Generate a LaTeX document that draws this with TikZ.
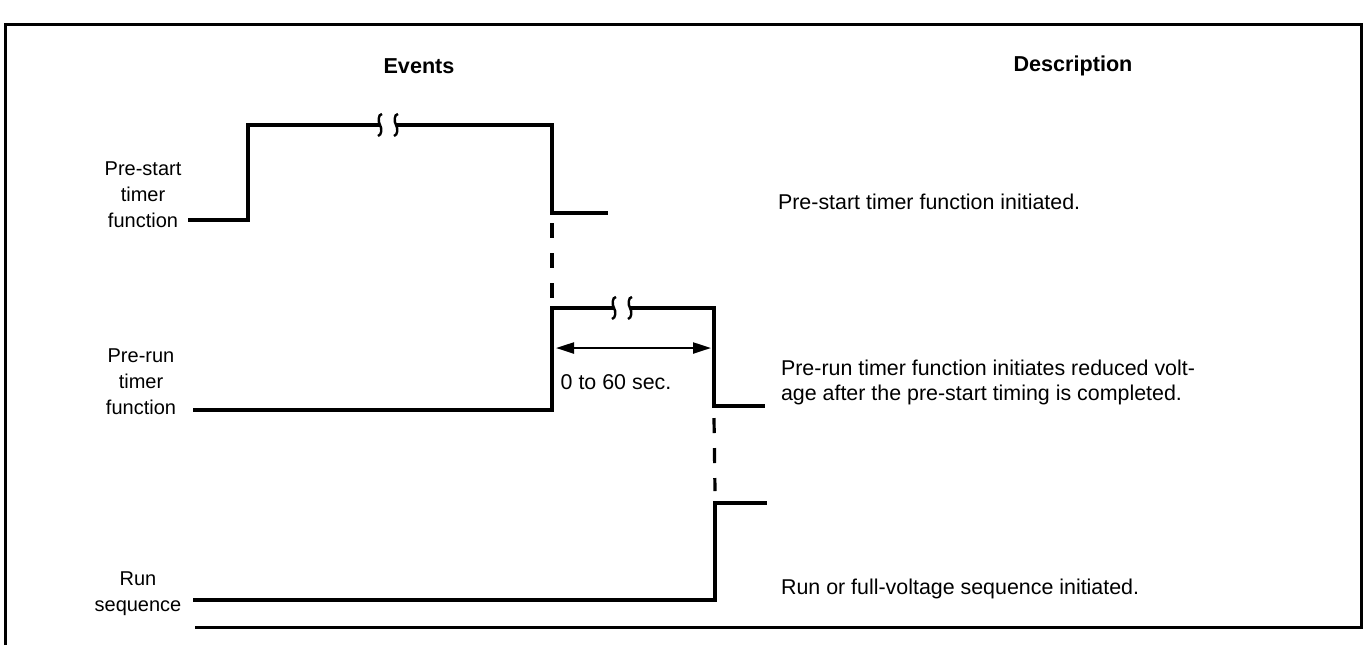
\documentclass[tikz,border=0pt]{standalone}
\usepackage{fontspec}
\setmainfont{Liberation Sans}
\usetikzlibrary{arrows.meta}

\tikzset{
  wave/.style={line width=1.6pt,line join=miter},
  guide/.style={line width=1.6pt,dash pattern=on 7.5pt off 7.5pt},
  frame/.style={line width=1.5pt},
  heading/.style={font=\fontsize{10.8}{13}\selectfont\bfseries},
  signame/.style={align=center,font=\fontsize{10}{13}\selectfont},
  desc/.style={align=left,anchor=west,font=\fontsize{10.7}{12.5}\selectfont},
  gapmark/.pic={
    \draw[line width=1.2pt] (-6,-11) .. controls (-10,-11) and (-10,-3) .. (-8,0)
      .. controls (-6,3) and (-6,10) .. (-10,11);
    \draw[line width=1.2pt] (10,-11) .. controls (6,-11) and (6,-3) .. (8,0)
      .. controls (10,3) and (10,10) .. (6,11);
  }
}

\begin{document}
\begin{tikzpicture}[x=0.5pt,y=-0.5pt]
  \useasboundingbox (0,0) rectangle (1369,645);

  % frame
  \draw[frame] (5,645) -- (5,24) -- (1361,24) -- (1361,627) -- (195,627);

  % headings
  \node[heading] (events) at (419,66) {Events};
  \node[heading] (descr) at (1073,66) {Description};

  % signal names
  \node[signame] (psname) at (143,195) {Pre-start\\timer\\function};
  \node[signame] (prname) at (141,382) {Pre-run\\timer\\function};
  \node[signame] (rsname) at (138,594) {Run\\sequence};

  % pre-start timer
  \coordinate (ps0) at (188,220);
  \coordinate (ps1) at (248,220);
  \coordinate (ps2) at (248,125);
  \coordinate (psgap) at (388,125);
  \coordinate (ps3) at (552,125);
  \coordinate (ps4) at (552,213);
  \coordinate (ps5) at (608,213);
  \draw[wave] (ps0) -- (ps1) -- (ps2) -- ([xshift=-4pt]psgap);
  \draw[wave] ([xshift=4pt]psgap) -- (ps3) -- (ps4) -- (ps5);
  \pic at (psgap) {gapmark};

  % pre-run timer
  \coordinate (pr0) at (193,410);
  \coordinate (pr1) at (552,410);
  \coordinate (pr2) at (552,308);
  \coordinate (prgap) at (622,308);
  \coordinate (pr3) at (714,308);
  \coordinate (pr4) at (714,406);
  \coordinate (pr5) at (765,406);
  \draw[wave] (pr0) -- (pr1) -- (pr2) -- ([xshift=-4pt]prgap);
  \draw[wave] ([xshift=4pt]prgap) -- (pr3) -- (pr4) -- (pr5);
  \pic at (prgap) {gapmark};

  % run sequence
  \coordinate (rs0) at (193,600);
  \coordinate (rs1) at (715,600);
  \coordinate (rs2) at (715,503);
  \coordinate (rs3) at (767,503);
  \draw[wave] (rs0) -- (rs1) -- (rs2) -- (rs3);

  % hand-over lines
  \draw[guide] ([yshift=-5pt]ps4) -- ([yshift=5pt]pr2);
  \draw[guide] ([yshift=-6pt]pr4) -- ([yshift=6pt]rs2);

  % delay
  \coordinate (dl0) at (556,348);
  \coordinate (dl1) at (711,348);
  \draw[line width=1.1pt,{Triangle[length=9pt,width=5.5pt]}-{Triangle[length=9pt,width=5.5pt]}] (dl0) -- (dl1);
  \node[desc,anchor=center] (delay) at (616,382) {0 to 60 sec.};

  % descriptions
  \node[desc] (psdesc) at (771,202) {Pre-start timer function initiated.};
  \node[desc] (prdesc) at (774,382) {Pre-run timer function initiates reduced volt-\\age after the pre-start timing is completed.};
  \node[desc] (rsdesc) at (774,589) {Run or full-voltage sequence initiated.};
\end{tikzpicture}
\end{document}
